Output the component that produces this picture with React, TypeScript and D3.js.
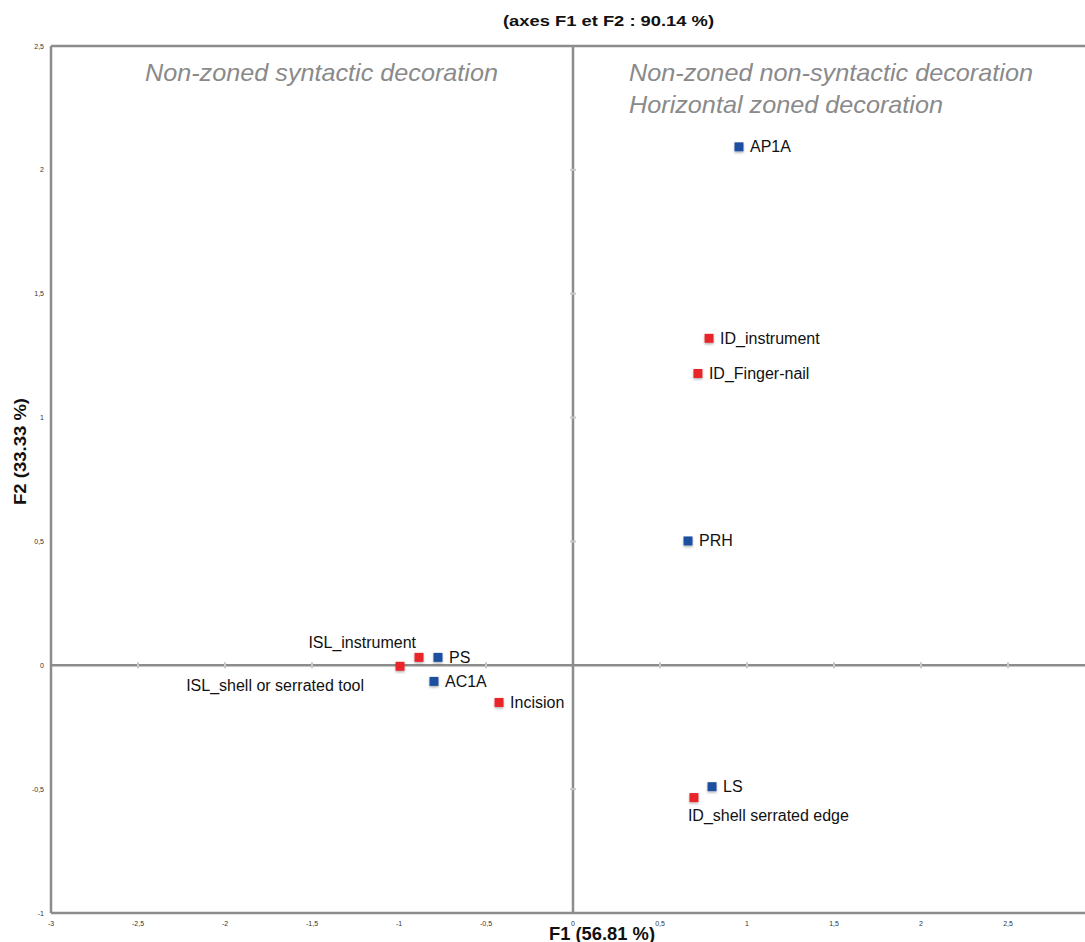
import React from "react";
import * as d3 from "d3";

const labels = ["AP1A", "ID_instrument", "ID_Finger-nail", "PRH", "PS", "ISL_instrument", "ISL_shell or serrated tool", "AC1A", "Incision", "LS", "ID_shell serrated edge"];
const f1Values = [0.954, 0.782, 0.718, 0.661, -0.776, -0.885, -0.994, -0.799, -0.425, 0.799, 0.695];
const f2Values = [2.093, 1.32, 1.178, 0.502, 0.032, 0.032, -0.004, -0.065, -0.15, -0.49, -0.534];
const groups = ["blue", "red", "red", "blue", "blue", "red", "red", "blue", "red", "blue", "red"];
const labelPos = ["right", "right", "right", "right", "right", "aboveLeft", "belowLeft", "right", "right", "right", "below"];
const xTicks = [-3, -2.5, -2, -1.5, -1, -0.5, 0, 0.5, 1, 1.5, 2, 2.5, 3];
const yTicks = [-1, -0.5, 0, 0.5, 1, 1.5, 2, 2.5];

const colors: Record<string, string> = { blue: "#1f4fa0", red: "#e8262c" };
const fmt = (v: number) => String(v).replace(".", ",");

export default function App() {
  const W = 1085, H = 942;
  const x = d3.scaleLinear().domain([-3, 3]).range([51, 1095]);
  const y = d3.scaleLinear().domain([-1, 2.5]).range([913, 46]);
  const axisCol = "#8c8c8c";
  const font = "Liberation Sans, Arial, sans-serif";
  return (
    <svg width={W} height={H} style={{ position: "absolute", left: 0, top: 0, background: "#fff" }} fontFamily={font}>
      <defs>
        <filter id="sh" x="-50%" y="-50%" width="200%" height="200%">
          <feDropShadow dx="0" dy="1.5" stdDeviation="1" floodColor="#000" floodOpacity="0.3" />
        </filter>
      </defs>
      <text x={503} y={26} fontSize={15.5} fontWeight="bold" fill="#111" textLength={211} lengthAdjust="spacingAndGlyphs">(axes F1 et F2 : 90.14 %)</text>
      {/* frame */}
      <line x1={x(-3)} x2={x(-3)} y1={y(2.5)} y2={y(-1)} stroke={axisCol} strokeWidth={2.5} />
      <line x1={x(-3)} x2={W} y1={y(2.5)} y2={y(2.5)} stroke={axisCol} strokeWidth={2.5} />
      <line x1={x(-3)} x2={W} y1={y(-1)} y2={y(-1)} stroke={axisCol} strokeWidth={2.5} />
      {/* zero lines */}
      <line x1={x(-3)} x2={W} y1={y(0)} y2={y(0)} stroke={axisCol} strokeWidth={2.5} />
      <line x1={x(0)} x2={x(0)} y1={y(2.5)} y2={y(-1)} stroke={axisCol} strokeWidth={2.5} />
      {/* small ticks on zero lines */}
      {xTicks.filter(t => t !== 0 && t > -3 && t < 3).map(t => (
        <line key={"xt" + t} x1={x(t)} x2={x(t)} y1={y(0) - 3} y2={y(0) + 3} stroke="#c8c8c8" strokeWidth={2} />
      ))}
      {yTicks.filter(t => t !== 0 && t > -1 && t < 2.5).map(t => (
        <line key={"yt" + t} x1={x(0) - 3} x2={x(0) + 3} y1={y(t)} y2={y(t)} stroke="#c8c8c8" strokeWidth={2} />
      ))}
      {/* tick labels */}
      {xTicks.filter(t => t < 3).map(t => (
        <text key={"xl" + t} x={x(t)} y={926} textAnchor="middle" fontSize={7} fill="#333">{fmt(t)}</text>
      ))}
      {yTicks.map(t => (
        <text key={"yl" + t} x={44} y={y(t) + 2.5} textAnchor="end" fontSize={7} fill="#333">{fmt(t)}</text>
      ))}
      {/* axis titles */}
      <text x={549} y={940} fontSize={18} fontWeight="bold" fill="#111" textLength={106} lengthAdjust="spacingAndGlyphs">F1 (56.81 %)</text>
      <text transform={`translate(26,505) rotate(-90)`} fontSize={17} fontWeight="bold" fill="#111" textLength={107} lengthAdjust="spacingAndGlyphs">F2 (33.33 %)</text>
      {/* quadrant annotations */}
      <text x={145} y={81} fontSize={24} fontStyle="italic" fill="#8a8a8a" textLength={353} lengthAdjust="spacingAndGlyphs">Non-zoned syntactic decoration</text>
      <text x={629} y={81} fontSize={24} fontStyle="italic" fill="#8a8a8a" textLength={404} lengthAdjust="spacingAndGlyphs">Non-zoned non-syntactic decoration</text>
      <text x={629} y={113} fontSize={24} fontStyle="italic" fill="#8a8a8a" textLength={314} lengthAdjust="spacingAndGlyphs">Horizontal zoned decoration</text>
      {/* points */}
      {labels.map((l, i) => {
        const px = x(f1Values[i]), py = y(f2Values[i]);
        const pos = labelPos[i];
        let tx = px + 11, ty = py + 5.5, anchor = "start";
        if (pos === "aboveLeft") { tx = px - 3; ty = py - 9; anchor = "end"; }
        if (pos === "belowLeft") { tx = px - 36; ty = py + 25; anchor = "end"; }
        if (pos === "below") { tx = px - 6; ty = py + 23; anchor = "start"; }
        return (
          <g key={l}>
            <rect x={px - 4.5} y={py - 4.5} width={9} height={9} fill={colors[groups[i]]} filter="url(#sh)" />
            <text x={tx} y={ty} textAnchor={anchor} fontSize={16} fill="#111">{l}</text>
          </g>
        );
      })}
    </svg>
  );
}
